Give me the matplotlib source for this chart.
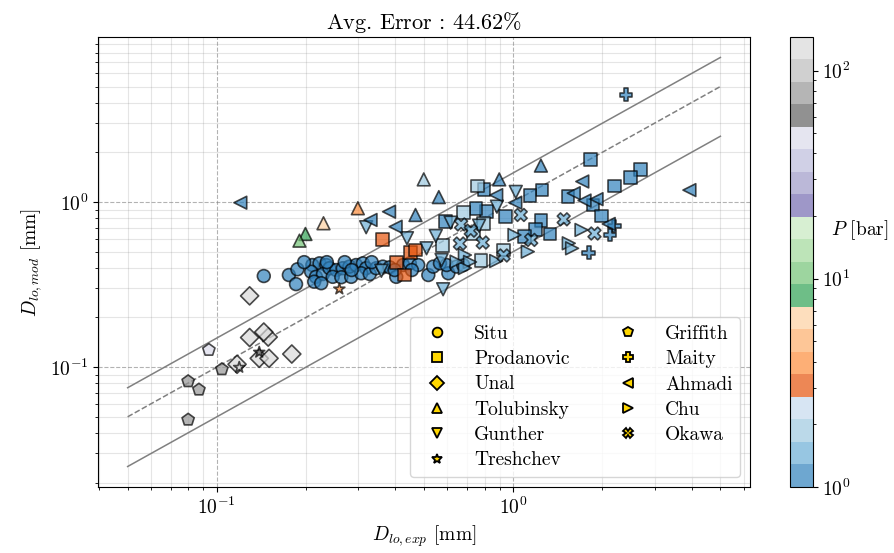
import numpy as np
import matplotlib
matplotlib.use("Agg")
import matplotlib.pyplot as plt
from matplotlib.colors import LogNorm, ListedColormap
from matplotlib.lines import Line2D

plt.rcParams["font.family"] = "serif"
plt.rcParams["font.serif"] = ["cmr10"]
plt.rcParams["mathtext.fontset"] = "cm"
plt.rcParams["axes.formatter.use_mathtext"] = True

# --- data: D_exp [mm], D_mod [mm], P [bar] per source ---
situ_x = [0.144, 0.175, 0.185, 0.187, 0.210, 0.222, 0.234, 0.208, 0.216, 0.228, 0.213, 0.225,
          0.240, 0.253, 0.266, 0.246, 0.263, 0.284, 0.280, 0.295, 0.311, 0.319, 0.307, 0.328,
          0.345, 0.363, 0.383, 0.403, 0.425, 0.448, 0.478, 0.517, 0.537, 0.566, 0.604, 0.596,
          0.644, 0.678, 0.197, 0.235, 0.270, 0.285, 0.333, 0.398, 0.455]
situ_y = [0.356, 0.361, 0.318, 0.391, 0.415, 0.425, 0.415, 0.378, 0.352, 0.366, 0.329, 0.322,
          0.397, 0.387, 0.397, 0.352, 0.350, 0.352, 0.406, 0.415, 0.425, 0.397, 0.370, 0.366,
          0.397, 0.406, 0.402, 0.352, 0.415, 0.425, 0.415, 0.361, 0.406, 0.425, 0.370, 0.415,
          0.406, 0.415, 0.432, 0.432, 0.432, 0.387, 0.432, 0.387, 0.387]
situ_p = [1.1] * len(situ_x)

prod_x = [0.363, 0.450, 0.469, 0.403, 0.430,
          1.82, 2.68, 2.48, 2.19, 1.53, 1.86, 1.99, 1.25, 1.14, 0.939, 1.24, 1.19, 1.33, 1.09,
          0.810, 0.749, 0.797, 0.590,
          0.757, 0.679, 0.578, 0.779, 0.927, 0.733, 0.793]
prod_y = [0.594, 0.493, 0.512, 0.429, 0.361,
          1.80, 1.58, 1.41, 1.25, 1.08, 0.959, 0.823, 1.18, 1.10, 0.815, 0.770, 0.684, 0.640, 0.616,
          0.873, 0.916, 1.19, 0.760,
          1.25, 0.861, 0.543, 0.443, 0.512, 0.646, 0.743]
prod_p = [3.0] * 5 + [1.1] * 18 + [1.9] * 7

unal_x = [0.129, 0.129, 0.149, 0.139, 0.150, 0.179, 0.117, 0.144]
unal_y = [0.270, 0.151, 0.152, 0.113, 0.113, 0.120, 0.104, 0.163]
unal_p = [139] * 8

tolu_x = [0.199, 0.190, 0.229, 0.299, 0.499, 0.561, 0.468, 0.897, 1.24]
tolu_y = [0.640, 0.583, 0.743, 0.916, 1.37, 1.07, 0.834, 1.37, 1.66]
tolu_p = [8.5, 10.5, 6.5, 4.0, 1.9, 1.1, 1.1, 1.1, 1.1]

gun_x = [0.319, 0.438, 0.615, 0.548, 0.510, 0.359, 0.580, 0.881, 1.02, 0.767, 0.573]
gun_y = [0.703, 0.603, 0.749, 0.622, 0.524, 0.383, 0.296, 0.936, 1.15, 0.718, 0.445]
gun_p = [1.5] * len(gun_x)

tresh_x = [0.139, 0.119, 0.259]
tresh_y = [0.123, 0.0996, 0.297]
tresh_p = [60, 139, 4.2]

grif_x = [0.094, 0.080, 0.087, 0.080, 0.104]
grif_y = [0.127, 0.082, 0.073, 0.048, 0.097]
grif_p = [45, 80, 80, 80, 80]

maity_x = [2.40, 2.19, 2.12, 1.80]
maity_y = [4.45, 0.715, 0.631, 0.493]
maity_p = [1.1] * 4

ahm_x = [0.120, 0.381, 0.330, 0.401, 0.876, 1.016, 1.71, 1.60, 1.74, 1.91, 2.10, 3.93]
ahm_y = [0.990, 0.873, 0.778, 0.708, 1.10, 0.99, 1.33, 1.13, 1.02, 1.04, 0.736, 1.18]
ahm_p = [1.1] * len(ahm_x)

chu_x = [1.01, 1.12, 1.70, 1.54, 1.58, 0.876, 0.687, 0.715, 0.687, 0.644]
chu_y = [0.631, 0.500, 0.677, 0.562, 0.524, 0.439, 0.477, 0.433, 0.398, 0.435]
chu_p = [1.5] * len(chu_x)

oka_x = [1.06, 1.48, 1.88, 1.15, 0.928, 0.667, 0.719, 0.789, 0.661]
oka_y = [0.834, 0.785, 0.644, 0.589, 0.474, 0.731, 0.670, 0.568, 0.560]
oka_p = [1.5] * len(oka_x)

names = ["Situ", "Prodanovic", "Unal", "Tolubinsky", "Gunther", "Treshchev",
         "Griffith", "Maity", "Ahmadi", "Chu", "Okawa"]
markers = ["o", "s", "D", "^", "v", "*", "p", "P", "<", ">", "X"]
xs = [situ_x, prod_x, unal_x, tolu_x, gun_x, tresh_x, grif_x, maity_x, ahm_x, chu_x, oka_x]
ys = [situ_y, prod_y, unal_y, tolu_y, gun_y, tresh_y, grif_y, maity_y, ahm_y, chu_y, oka_y]
ps = [situ_p, prod_p, unal_p, tolu_p, gun_p, tresh_p, grif_p, maity_p, ahm_p, chu_p, oka_p]

cmap = ListedColormap(plt.get_cmap("tab20c").colors)
norm = LogNorm(vmin=1, vmax=145)

fig = plt.figure(figsize=(8.95, 5.53), dpi=100)
ax = fig.add_axes([0.1095, 0.1194, 0.7285, 0.8137])
cax = fig.add_axes([0.8827, 0.1194, 0.0254, 0.8137])

sc = None
for x, y, p, m in zip(xs, ys, ps, markers):
    size = 70 if m == "*" else 85
    sc = ax.scatter(x, y, c=p, cmap=cmap, norm=norm, marker=m, s=size,
                    edgecolors="k", linewidths=1.2, alpha=0.7, zorder=3)

xl = np.array([0.05, 5])
ax.plot(xl, xl, "--", color="gray", lw=1.1, zorder=2)
ax.plot(xl, 1.5 * xl, "-", color="gray", lw=1.1, zorder=2)
ax.plot(xl, 0.5 * xl, "-", color="gray", lw=1.1, zorder=2)

ax.set_xscale("log")
ax.set_yscale("log")
ax.grid(True, which="major", ls="--", color="gray", alpha=0.6)
ax.grid(True, which="minor", ls="-", color="gray", alpha=0.2)
ax.tick_params(labelsize=14)
ax.set_xlabel(r"$D_{lo,exp}$ [mm]", fontsize=14)
ax.set_ylabel(r"$D_{lo,mod}$ [mm]", fontsize=14)
ax.set_title(r"Avg. Error : 44.62$\%$", fontsize=16)

handles = [Line2D([], [], ls="none", marker=m, markersize=7, markerfacecolor="gold",
                  markeredgecolor="k", markeredgewidth=1.3) for m in markers]
ax.legend(handles, names, loc="lower right", ncol=2, fontsize=14,
          labelspacing=0.38, columnspacing=2.0, handletextpad=0.9)

cb = fig.colorbar(sc, cax=cax)
cb.ax.tick_params(labelsize=14)
cb.set_label(r"$P$ [bar]", rotation=0, fontsize=14, ha="left", va="center")
cb.ax.yaxis.set_label_coords(1.8, 0.57)

fig.savefig("out.png", dpi=100)
